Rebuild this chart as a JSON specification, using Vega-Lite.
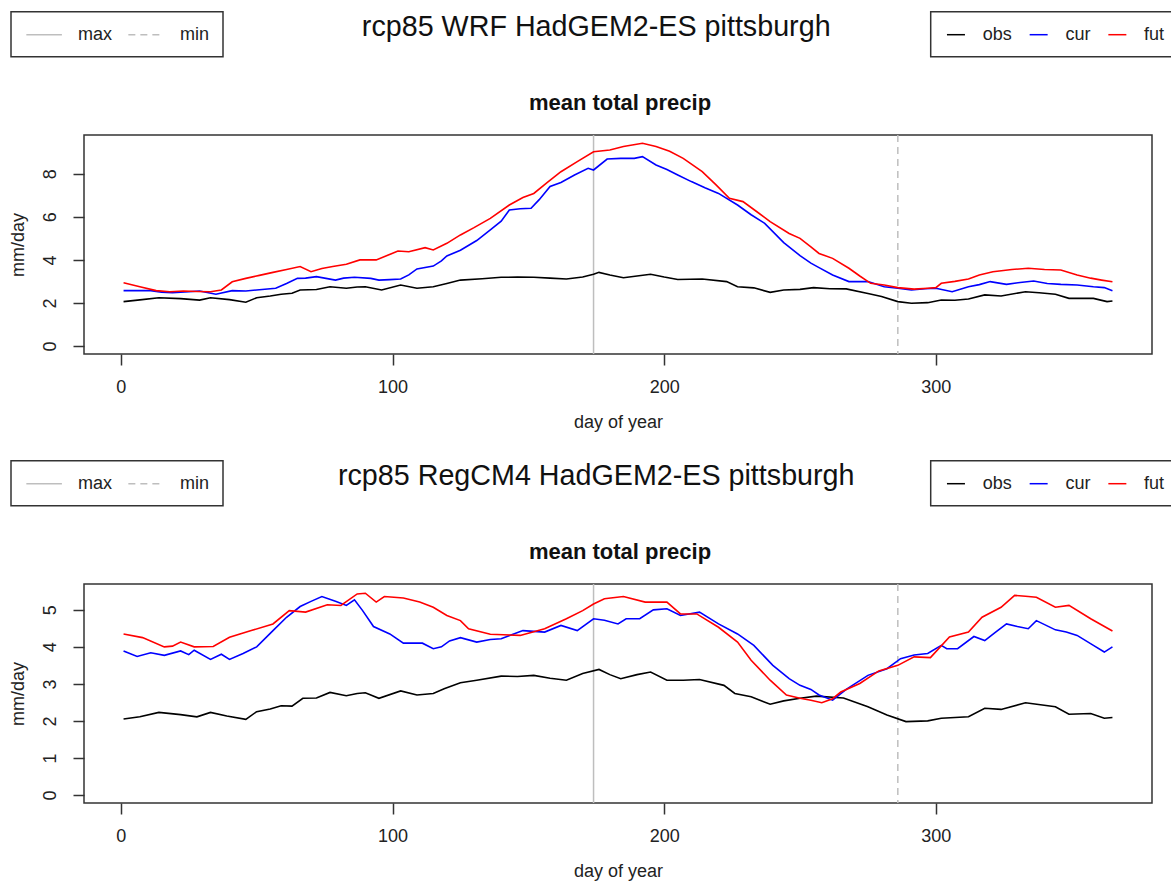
{
"$schema": "https://vega.github.io/schema/vega-lite/v6.json",
"padding": {"left": 8, "top": 10, "right": 0, "bottom": 0},
"background": "white",
"datasets": {
"rules": [{"d": 174, "t": "max"}, {"d": 286, "t": "min"}],
"p1": [
{"s":"obs","d":1,"v":2.06},{"s":"obs","d":7,"v":2.14},{"s":"obs","d":14,"v":2.24},{"s":"obs","d":22,"v":2.2},{"s":"obs","d":29,"v":2.13},{"s":"obs","d":33,"v":2.24},{"s":"obs","d":40,"v":2.15},{"s":"obs","d":46,"v":2.03},{"s":"obs","d":50,"v":2.24},{"s":"obs","d":55,"v":2.32},{"s":"obs","d":59,"v":2.4},{"s":"obs","d":63,"v":2.45},{"s":"obs","d":66,"v":2.6},{"s":"obs","d":72,"v":2.62},{"s":"obs","d":77,"v":2.75},{"s":"obs","d":83,"v":2.68},{"s":"obs","d":87,"v":2.74},{"s":"obs","d":90,"v":2.75},{"s":"obs","d":96,"v":2.6},{"s":"obs","d":103,"v":2.83},{"s":"obs","d":109,"v":2.68},{"s":"obs","d":115,"v":2.75},{"s":"obs","d":120,"v":2.9},{"s":"obs","d":125,"v":3.06},{"s":"obs","d":133,"v":3.12},{"s":"obs","d":140,"v":3.19},{"s":"obs","d":146,"v":3.2},{"s":"obs","d":152,"v":3.19},{"s":"obs","d":158,"v":3.15},{"s":"obs","d":164,"v":3.11},{"s":"obs","d":170,"v":3.2},{"s":"obs","d":174,"v":3.33},{"s":"obs","d":176,"v":3.42},{"s":"obs","d":180,"v":3.3},{"s":"obs","d":185,"v":3.17},{"s":"obs","d":190,"v":3.25},{"s":"obs","d":195,"v":3.33},{"s":"obs","d":200,"v":3.2},{"s":"obs","d":205,"v":3.09},{"s":"obs","d":214,"v":3.11},{"s":"obs","d":223,"v":2.99},{"s":"obs","d":227,"v":2.75},{"s":"obs","d":233,"v":2.7},{"s":"obs","d":239,"v":2.49},{"s":"obs","d":244,"v":2.6},{"s":"obs","d":250,"v":2.63},{"s":"obs","d":255,"v":2.71},{"s":"obs","d":261,"v":2.66},{"s":"obs","d":267,"v":2.65},{"s":"obs","d":275,"v":2.44},{"s":"obs","d":280,"v":2.3},{"s":"obs","d":286,"v":2.06},{"s":"obs","d":291,"v":1.98},{"s":"obs","d":297,"v":2.01},{"s":"obs","d":302,"v":2.13},{"s":"obs","d":307,"v":2.12},{"s":"obs","d":312,"v":2.18},{"s":"obs","d":318,"v":2.37},{"s":"obs","d":324,"v":2.32},{"s":"obs","d":333,"v":2.52},{"s":"obs","d":338,"v":2.47},{"s":"obs","d":344,"v":2.4},{"s":"obs","d":349,"v":2.21},{"s":"obs","d":358,"v":2.21},{"s":"obs","d":363,"v":2.06},{"s":"obs","d":365,"v":2.09},
{"s":"cur","d":1,"v":2.57},{"s":"cur","d":6,"v":2.57},{"s":"cur","d":11,"v":2.57},{"s":"cur","d":15,"v":2.5},{"s":"cur","d":19,"v":2.47},{"s":"cur","d":25,"v":2.52},{"s":"cur","d":29,"v":2.55},{"s":"cur","d":35,"v":2.4},{"s":"cur","d":41,"v":2.57},{"s":"cur","d":46,"v":2.55},{"s":"cur","d":50,"v":2.6},{"s":"cur","d":57,"v":2.68},{"s":"cur","d":61,"v":2.9},{"s":"cur","d":65,"v":3.14},{"s":"cur","d":68,"v":3.15},{"s":"cur","d":72,"v":3.22},{"s":"cur","d":79,"v":3.06},{"s":"cur","d":82,"v":3.15},{"s":"cur","d":86,"v":3.19},{"s":"cur","d":92,"v":3.14},{"s":"cur","d":95,"v":3.06},{"s":"cur","d":99,"v":3.08},{"s":"cur","d":103,"v":3.11},{"s":"cur","d":106,"v":3.3},{"s":"cur","d":109,"v":3.58},{"s":"cur","d":115,"v":3.71},{"s":"cur","d":118,"v":3.95},{"s":"cur","d":120,"v":4.18},{"s":"cur","d":125,"v":4.45},{"s":"cur","d":131,"v":4.9},{"s":"cur","d":136,"v":5.39},{"s":"cur","d":140,"v":5.8},{"s":"cur","d":143,"v":6.32},{"s":"cur","d":147,"v":6.38},{"s":"cur","d":151,"v":6.4},{"s":"cur","d":154,"v":6.8},{"s":"cur","d":158,"v":7.41},{"s":"cur","d":162,"v":7.6},{"s":"cur","d":167,"v":7.95},{"s":"cur","d":172,"v":8.26},{"s":"cur","d":174,"v":8.18},{"s":"cur","d":179,"v":8.69},{"s":"cur","d":184,"v":8.72},{"s":"cur","d":189,"v":8.72},{"s":"cur","d":192,"v":8.8},{"s":"cur","d":197,"v":8.41},{"s":"cur","d":201,"v":8.2},{"s":"cur","d":205,"v":7.95},{"s":"cur","d":210,"v":7.64},{"s":"cur","d":215,"v":7.35},{"s":"cur","d":220,"v":7.09},{"s":"cur","d":227,"v":6.55},{"s":"cur","d":232,"v":6.1},{"s":"cur","d":237,"v":5.7},{"s":"cur","d":244,"v":4.8},{"s":"cur","d":250,"v":4.2},{"s":"cur","d":254,"v":3.85},{"s":"cur","d":257,"v":3.64},{"s":"cur","d":262,"v":3.3},{"s":"cur","d":268,"v":2.99},{"s":"cur","d":275,"v":2.99},{"s":"cur","d":281,"v":2.75},{"s":"cur","d":286,"v":2.68},{"s":"cur","d":291,"v":2.6},{"s":"cur","d":296,"v":2.66},{"s":"cur","d":300,"v":2.68},{"s":"cur","d":306,"v":2.52},{"s":"cur","d":312,"v":2.75},{"s":"cur","d":316,"v":2.85},{"s":"cur","d":320,"v":2.99},{"s":"cur","d":326,"v":2.86},{"s":"cur","d":331,"v":2.95},{"s":"cur","d":336,"v":3.02},{"s":"cur","d":341,"v":2.9},{"s":"cur","d":346,"v":2.86},{"s":"cur","d":352,"v":2.83},{"s":"cur","d":358,"v":2.75},{"s":"cur","d":362,"v":2.71},{"s":"cur","d":365,"v":2.57},
{"s":"fut","d":1,"v":2.94},{"s":"fut","d":7,"v":2.75},{"s":"fut","d":13,"v":2.57},{"s":"fut","d":18,"v":2.52},{"s":"fut","d":23,"v":2.55},{"s":"fut","d":28,"v":2.53},{"s":"fut","d":33,"v":2.52},{"s":"fut","d":37,"v":2.6},{"s":"fut","d":41,"v":2.98},{"s":"fut","d":46,"v":3.14},{"s":"fut","d":51,"v":3.28},{"s":"fut","d":56,"v":3.42},{"s":"fut","d":61,"v":3.55},{"s":"fut","d":66,"v":3.69},{"s":"fut","d":70,"v":3.45},{"s":"fut","d":74,"v":3.6},{"s":"fut","d":78,"v":3.69},{"s":"fut","d":83,"v":3.8},{"s":"fut","d":88,"v":4.0},{"s":"fut","d":94,"v":4.0},{"s":"fut","d":98,"v":4.2},{"s":"fut","d":102,"v":4.41},{"s":"fut","d":106,"v":4.38},{"s":"fut","d":112,"v":4.57},{"s":"fut","d":115,"v":4.46},{"s":"fut","d":120,"v":4.77},{"s":"fut","d":125,"v":5.16},{"s":"fut","d":130,"v":5.5},{"s":"fut","d":136,"v":5.93},{"s":"fut","d":143,"v":6.55},{"s":"fut","d":148,"v":6.9},{"s":"fut","d":152,"v":7.09},{"s":"fut","d":157,"v":7.6},{"s":"fut","d":162,"v":8.1},{"s":"fut","d":168,"v":8.57},{"s":"fut","d":174,"v":9.03},{"s":"fut","d":180,"v":9.11},{"s":"fut","d":185,"v":9.27},{"s":"fut","d":192,"v":9.42},{"s":"fut","d":197,"v":9.27},{"s":"fut","d":202,"v":9.05},{"s":"fut","d":207,"v":8.72},{"s":"fut","d":214,"v":8.1},{"s":"fut","d":219,"v":7.5},{"s":"fut","d":224,"v":6.86},{"s":"fut","d":229,"v":6.71},{"s":"fut","d":234,"v":6.25},{"s":"fut","d":239,"v":5.78},{"s":"fut","d":246,"v":5.23},{"s":"fut","d":250,"v":5.0},{"s":"fut","d":254,"v":4.61},{"s":"fut","d":257,"v":4.3},{"s":"fut","d":262,"v":4.07},{"s":"fut","d":268,"v":3.61},{"s":"fut","d":272,"v":3.25},{"s":"fut","d":276,"v":2.91},{"s":"fut","d":281,"v":2.83},{"s":"fut","d":286,"v":2.71},{"s":"fut","d":292,"v":2.64},{"s":"fut","d":297,"v":2.68},{"s":"fut","d":300,"v":2.71},{"s":"fut","d":302,"v":2.91},{"s":"fut","d":307,"v":3.0},{"s":"fut","d":312,"v":3.11},{"s":"fut","d":316,"v":3.3},{"s":"fut","d":321,"v":3.45},{"s":"fut","d":328,"v":3.55},{"s":"fut","d":334,"v":3.61},{"s":"fut","d":340,"v":3.55},{"s":"fut","d":346,"v":3.53},{"s":"fut","d":352,"v":3.3},{"s":"fut","d":357,"v":3.15},{"s":"fut","d":361,"v":3.06},{"s":"fut","d":365,"v":2.98}
],
"p2": [
{"s":"obs","d":1,"v":2.05},{"s":"obs","d":7,"v":2.11},{"s":"obs","d":14,"v":2.23},{"s":"obs","d":22,"v":2.17},{"s":"obs","d":28,"v":2.11},{"s":"obs","d":33,"v":2.23},{"s":"obs","d":39,"v":2.13},{"s":"obs","d":46,"v":2.04},{"s":"obs","d":50,"v":2.25},{"s":"obs","d":55,"v":2.32},{"s":"obs","d":59,"v":2.41},{"s":"obs","d":63,"v":2.4},{"s":"obs","d":67,"v":2.61},{"s":"obs","d":72,"v":2.62},{"s":"obs","d":77,"v":2.77},{"s":"obs","d":83,"v":2.68},{"s":"obs","d":87,"v":2.74},{"s":"obs","d":90,"v":2.76},{"s":"obs","d":95,"v":2.61},{"s":"obs","d":103,"v":2.81},{"s":"obs","d":109,"v":2.7},{"s":"obs","d":115,"v":2.74},{"s":"obs","d":119,"v":2.87},{"s":"obs","d":125,"v":3.03},{"s":"obs","d":131,"v":3.1},{"s":"obs","d":140,"v":3.21},{"s":"obs","d":146,"v":3.2},{"s":"obs","d":152,"v":3.23},{"s":"obs","d":158,"v":3.15},{"s":"obs","d":164,"v":3.1},{"s":"obs","d":170,"v":3.28},{"s":"obs","d":176,"v":3.39},{"s":"obs","d":180,"v":3.25},{"s":"obs","d":184,"v":3.14},{"s":"obs","d":190,"v":3.25},{"s":"obs","d":195,"v":3.32},{"s":"obs","d":201,"v":3.1},{"s":"obs","d":207,"v":3.1},{"s":"obs","d":213,"v":3.12},{"s":"obs","d":222,"v":2.96},{"s":"obs","d":226,"v":2.74},{"s":"obs","d":232,"v":2.65},{"s":"obs","d":239,"v":2.45},{"s":"obs","d":244,"v":2.54},{"s":"obs","d":250,"v":2.61},{"s":"obs","d":256,"v":2.67},{"s":"obs","d":266,"v":2.62},{"s":"obs","d":275,"v":2.38},{"s":"obs","d":282,"v":2.16},{"s":"obs","d":289,"v":1.98},{"s":"obs","d":297,"v":2.0},{"s":"obs","d":302,"v":2.07},{"s":"obs","d":312,"v":2.11},{"s":"obs","d":318,"v":2.34},{"s":"obs","d":324,"v":2.31},{"s":"obs","d":333,"v":2.49},{"s":"obs","d":344,"v":2.38},{"s":"obs","d":349,"v":2.18},{"s":"obs","d":357,"v":2.2},{"s":"obs","d":362,"v":2.07},{"s":"obs","d":365,"v":2.09},
{"s":"cur","d":1,"v":3.89},{"s":"cur","d":6,"v":3.74},{"s":"cur","d":11,"v":3.84},{"s":"cur","d":16,"v":3.77},{"s":"cur","d":22,"v":3.89},{"s":"cur","d":25,"v":3.79},{"s":"cur","d":27,"v":3.91},{"s":"cur","d":33,"v":3.66},{"s":"cur","d":37,"v":3.8},{"s":"cur","d":40,"v":3.66},{"s":"cur","d":45,"v":3.82},{"s":"cur","d":50,"v":4.0},{"s":"cur","d":56,"v":4.44},{"s":"cur","d":61,"v":4.8},{"s":"cur","d":66,"v":5.09},{"s":"cur","d":70,"v":5.23},{"s":"cur","d":74,"v":5.36},{"s":"cur","d":79,"v":5.23},{"s":"cur","d":83,"v":5.12},{"s":"cur","d":86,"v":5.27},{"s":"cur","d":89,"v":4.98},{"s":"cur","d":93,"v":4.55},{"s":"cur","d":99,"v":4.35},{"s":"cur","d":104,"v":4.1},{"s":"cur","d":111,"v":4.1},{"s":"cur","d":115,"v":3.95},{"s":"cur","d":118,"v":4.0},{"s":"cur","d":121,"v":4.16},{"s":"cur","d":125,"v":4.25},{"s":"cur","d":131,"v":4.13},{"s":"cur","d":136,"v":4.2},{"s":"cur","d":140,"v":4.22},{"s":"cur","d":148,"v":4.44},{"s":"cur","d":156,"v":4.4},{"s":"cur","d":162,"v":4.58},{"s":"cur","d":168,"v":4.44},{"s":"cur","d":174,"v":4.76},{"s":"cur","d":178,"v":4.72},{"s":"cur","d":183,"v":4.62},{"s":"cur","d":186,"v":4.76},{"s":"cur","d":191,"v":4.76},{"s":"cur","d":196,"v":5.0},{"s":"cur","d":201,"v":5.03},{"s":"cur","d":206,"v":4.85},{"s":"cur","d":213,"v":4.94},{"s":"cur","d":220,"v":4.62},{"s":"cur","d":227,"v":4.35},{"s":"cur","d":233,"v":4.04},{"s":"cur","d":240,"v":3.5},{"s":"cur","d":246,"v":3.14},{"s":"cur","d":250,"v":2.96},{"s":"cur","d":254,"v":2.85},{"s":"cur","d":257,"v":2.7},{"s":"cur","d":262,"v":2.56},{"s":"cur","d":267,"v":2.85},{"s":"cur","d":275,"v":3.23},{"s":"cur","d":282,"v":3.41},{"s":"cur","d":287,"v":3.68},{"s":"cur","d":292,"v":3.78},{"s":"cur","d":297,"v":3.82},{"s":"cur","d":302,"v":4.04},{"s":"cur","d":304,"v":3.95},{"s":"cur","d":308,"v":3.95},{"s":"cur","d":314,"v":4.28},{"s":"cur","d":318,"v":4.17},{"s":"cur","d":322,"v":4.4},{"s":"cur","d":326,"v":4.62},{"s":"cur","d":330,"v":4.55},{"s":"cur","d":334,"v":4.49},{"s":"cur","d":337,"v":4.71},{"s":"cur","d":344,"v":4.46},{"s":"cur","d":348,"v":4.4},{"s":"cur","d":352,"v":4.31},{"s":"cur","d":358,"v":4.04},{"s":"cur","d":362,"v":3.86},{"s":"cur","d":365,"v":4.0},
{"s":"fut","d":1,"v":4.35},{"s":"fut","d":8,"v":4.25},{"s":"fut","d":16,"v":4.0},{"s":"fut","d":19,"v":4.02},{"s":"fut","d":22,"v":4.13},{"s":"fut","d":27,"v":4.0},{"s":"fut","d":34,"v":4.01},{"s":"fut","d":40,"v":4.26},{"s":"fut","d":48,"v":4.44},{"s":"fut","d":56,"v":4.62},{"s":"fut","d":62,"v":4.98},{"s":"fut","d":68,"v":4.94},{"s":"fut","d":76,"v":5.14},{"s":"fut","d":81,"v":5.12},{"s":"fut","d":87,"v":5.43},{"s":"fut","d":90,"v":5.45},{"s":"fut","d":94,"v":5.21},{"s":"fut","d":97,"v":5.36},{"s":"fut","d":104,"v":5.32},{"s":"fut","d":110,"v":5.21},{"s":"fut","d":115,"v":5.07},{"s":"fut","d":120,"v":4.85},{"s":"fut","d":125,"v":4.71},{"s":"fut","d":128,"v":4.49},{"s":"fut","d":136,"v":4.34},{"s":"fut","d":147,"v":4.31},{"s":"fut","d":156,"v":4.49},{"s":"fut","d":164,"v":4.76},{"s":"fut","d":170,"v":4.98},{"s":"fut","d":174,"v":5.16},{"s":"fut","d":178,"v":5.3},{"s":"fut","d":185,"v":5.36},{"s":"fut","d":193,"v":5.21},{"s":"fut","d":201,"v":5.21},{"s":"fut","d":206,"v":4.89},{"s":"fut","d":212,"v":4.89},{"s":"fut","d":220,"v":4.53},{"s":"fut","d":227,"v":4.13},{"s":"fut","d":232,"v":3.64},{"s":"fut","d":239,"v":3.1},{"s":"fut","d":245,"v":2.7},{"s":"fut","d":250,"v":2.61},{"s":"fut","d":254,"v":2.56},{"s":"fut","d":258,"v":2.49},{"s":"fut","d":262,"v":2.6},{"s":"fut","d":265,"v":2.78},{"s":"fut","d":272,"v":3.01},{"s":"fut","d":279,"v":3.35},{"s":"fut","d":286,"v":3.5},{"s":"fut","d":292,"v":3.73},{"s":"fut","d":298,"v":3.71},{"s":"fut","d":305,"v":4.27},{"s":"fut","d":312,"v":4.4},{"s":"fut","d":317,"v":4.8},{"s":"fut","d":324,"v":5.07},{"s":"fut","d":329,"v":5.39},{"s":"fut","d":333,"v":5.37},{"s":"fut","d":337,"v":5.34},{"s":"fut","d":344,"v":5.07},{"s":"fut","d":349,"v":5.12},{"s":"fut","d":357,"v":4.76},{"s":"fut","d":365,"v":4.43}
]
},
"config": {
"font": "Liberation Sans",
"view": {"stroke": "#333333", "strokeWidth": 1.5},
"axis": {"grid": false, "domain": false, "ticks": true, "tickSize": 11, "tickColor": "#333333", "tickWidth": 1.5, "labelFont": "Liberation Sans", "labelFontSize": 18, "labelColor": "#222222", "titleFont": "Liberation Sans", "titleFontSize": 18, "titleFontWeight": "normal", "titleColor": "#222222"},
"axisX": {"labelPadding": 13, "titlePadding": 17, "labelFlush": false, "labelOverlap": false},
"axisY": {"labelAngle": 270, "labelAlign": "center", "labelBaseline": "bottom", "labelPadding": 14, "titlePadding": 14},
"legend": {"strokeWidth": 1.5, "labelFont": "Liberation Sans", "labelFontSize": 18, "labelColor": "#222222"},
"title": {"font": "Liberation Sans", "color": "#111111"}
},
"spacing": 27,
"resolve": {"scale": {"color": "independent", "strokeDash": "independent", "x": "independent", "y": "independent"}},
"vconcat": [
{
"title": {"text": "rcp85 WRF HadGEM2-ES pittsburgh", "fontSize": 28.7, "fontWeight": "normal", "anchor": "middle", "frame": "bounds", "offset": -31, "dx": 2.5},
"resolve": {"scale": {"color": "independent", "strokeDash": "independent", "x": "independent", "y": "independent"}},
"vconcat": [
{
"title": {"text": "mean total precip", "fontSize": 22, "fontWeight": "bold", "anchor": "middle", "frame": "group", "offset": -104, "dx": 2},
"width": 1068, "height": 219,
"layer": [
{"data": {"name": "rules"}, "mark": {"type": "rule", "color": "#BEBEBE", "strokeWidth": 1.5},
"encoding": {
"x": {"field": "d", "type": "quantitative", "scale": {"domain": [-13.56, 379.56], "nice": false, "zero": false}},
"strokeDash": {"field": "t", "type": "nominal", "scale": {"domain": ["max", "min"], "range": [[1, 0], [7, 5]]},
"legend": {"title": null, "orient": "none", "legendX": -73, "legendY": -123.3, "direction": "horizontal", "symbolType": "M-0.85,0H3.1", "symbolSize": 324, "symbolStrokeWidth": 1.5, "symbolStrokeColor": "#BEBEBE", "labelOffset": 34, "columnPadding": 12, "padding": 13, "strokeColor": "#333333"}}
}},
{"data": {"name": "p1"}, "mark": {"type": "line", "strokeWidth": 1.6},
"encoding": {
"x": {"field": "d", "type": "quantitative", "scale": {"domain": [-13.56, 379.56], "nice": false, "zero": false}, "axis": {"title": "day of year", "values": [0, 100, 200, 300]}},
"y": {"field": "v", "type": "quantitative", "scale": {"domain": [-0.377, 9.807], "nice": false, "zero": false}, "axis": {"title": "mm/day", "values": [0, 2, 4, 6, 8]}},
"color": {"field": "s", "type": "nominal", "scale": {"domain": ["obs", "cur", "fut"], "range": ["#000000", "#0000FF", "#FF0000"]},
"legend": {"title": null, "orient": "none", "legendX": 846.7, "legendY": -123.3, "direction": "horizontal", "symbolType": "M-0.75,0H1.25", "symbolSize": 324, "symbolStrokeWidth": 1.5, "labelOffset": 19, "columnPadding": 13.7, "padding": 13, "strokeColor": "#333333"}}
}}
]
}
]
},
{
"title": {"text": "rcp85 RegCM4 HadGEM2-ES pittsburgh", "fontSize": 28.7, "fontWeight": "normal", "anchor": "middle", "frame": "bounds", "offset": -31, "dx": 2.5},
"resolve": {"scale": {"color": "independent", "strokeDash": "independent", "x": "independent", "y": "independent"}},
"vconcat": [
{
"title": {"text": "mean total precip", "fontSize": 22, "fontWeight": "bold", "anchor": "middle", "frame": "group", "offset": -104, "dx": 2},
"width": 1068, "height": 219,
"layer": [
{"data": {"name": "rules"}, "mark": {"type": "rule", "color": "#BEBEBE", "strokeWidth": 1.5},
"encoding": {
"x": {"field": "d", "type": "quantitative", "scale": {"domain": [-13.56, 379.56], "nice": false, "zero": false}},
"strokeDash": {"field": "t", "type": "nominal", "scale": {"domain": ["max", "min"], "range": [[1, 0], [7, 5]]},
"legend": {"title": null, "orient": "none", "legendX": -73, "legendY": -123.3, "direction": "horizontal", "symbolType": "M-0.85,0H3.1", "symbolSize": 324, "symbolStrokeWidth": 1.5, "symbolStrokeColor": "#BEBEBE", "labelOffset": 34, "columnPadding": 12, "padding": 13, "strokeColor": "#333333"}}
}},
{"data": {"name": "p2"}, "mark": {"type": "line", "strokeWidth": 1.6},
"encoding": {
"x": {"field": "d", "type": "quantitative", "scale": {"domain": [-13.56, 379.56], "nice": false, "zero": false}, "axis": {"title": "day of year", "values": [0, 100, 200, 300]}},
"y": {"field": "v", "type": "quantitative", "scale": {"domain": [-0.219, 5.699], "nice": false, "zero": false}, "axis": {"title": "mm/day", "values": [0, 1, 2, 3, 4, 5]}},
"color": {"field": "s", "type": "nominal", "scale": {"domain": ["obs", "cur", "fut"], "range": ["#000000", "#0000FF", "#FF0000"]},
"legend": {"title": null, "orient": "none", "legendX": 846.7, "legendY": -123.3, "direction": "horizontal", "symbolType": "M-0.75,0H1.25", "symbolSize": 324, "symbolStrokeWidth": 1.5, "labelOffset": 19, "columnPadding": 13.7, "padding": 13, "strokeColor": "#333333"}}
}}
]
}
]
}
]
}
